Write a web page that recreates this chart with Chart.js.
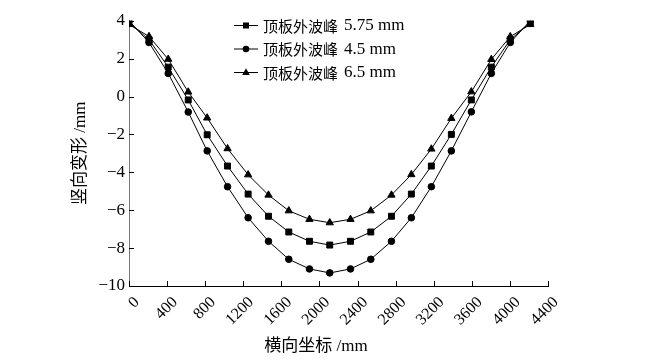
<!DOCTYPE html>
<html><head><meta charset="utf-8">
<script src="https://cdn.jsdelivr.net/npm/chart.js@4.4.1/dist/chart.umd.min.js"></script>
<style>html,body{margin:0;padding:0;background:#fff}#wrap{width:670px;height:362px;position:relative}</style>
</head><body><div id="wrap"><canvas id="c"></canvas></div>
<script>
const xPositions = [0, 210, 412, 622, 821, 1035, 1251, 1465, 1678, 1895, 2108, 2326, 2539, 2756, 2965, 3175, 3385, 3595, 3805, 4004, 4214];
const peak575 = [3.9, 3.0, 1.55, -0.18, -2.02, -3.67, -5.15, -6.32, -7.15, -7.64, -7.84, -7.64, -7.15, -6.32, -5.15, -3.67, -2.0, -0.18, 1.55, 3.0, 3.9];
const peak45  = [4.0, 2.85, 1.22, -0.82, -2.87, -4.76, -6.4, -7.64, -8.59, -9.1, -9.31, -9.1, -8.59, -7.64, -6.4, -4.76, -2.87, -0.81, 1.22, 2.85, 4.0];
const peak65  = [3.8, 3.17, 1.97, 0.24, -1.13, -2.75, -4.13, -5.2, -6.03, -6.48, -6.66, -6.48, -6.03, -5.2, -4.12, -2.77, -1.15, 0.25, 1.96, 3.16, 3.8];
const seriesNames = ['顶板外波峰', '顶板外波峰', '顶板外波峰'];
const seriesValues = ['5.75 mm', '4.5 mm', '6.5 mm'];
const seriesMarkers = ['rect', 'circle', 'triangle'];
const xAxisTitle = '横向坐标 /mm';
const yAxisTitle = '竖向变形 /mm';

const FONT = '"Liberation Serif", "Noto Sans CJK SC", serif';
const CJK = '"Noto Sans CJK SC", "Liberation Serif", serif';
const toPts = ys => ys.map((y, i) => ({x: xPositions[i], y}));
const mk = (label, ys, style, r) => ({
  label, data: toPts(ys), borderColor: '#000', backgroundColor: '#000', borderWidth: 1,
  pointStyle: style, pointRadius: r, pointBackgroundColor: '#000', pointBorderColor: '#000',
  pointBorderWidth: 1, tension: 0, fill: false
});

function drawMarker(ctx, style, x, y) {
  ctx.beginPath();
  if (style === 'rect') { ctx.rect(x - 3, y - 3, 6, 6); }
  else if (style === 'circle') { ctx.arc(x, y, 3.3, 0, Math.PI * 2); }
  else { ctx.moveTo(x, y - 4.2); ctx.lineTo(x + 3.8, y + 2.4); ctx.lineTo(x - 3.8, y + 2.4); ctx.closePath(); }
  ctx.fill();
}

const extras = {
  id: 'extras',
  afterDraw(chart) {
    const ctx = chart.ctx, xs = chart.scales.x, ys = chart.scales.y, a = chart.chartArea;
    ctx.save();
    ctx.strokeStyle = '#000'; ctx.lineWidth = 1;
    xs.ticks.forEach(t => {
      const px = Math.round(xs.getPixelForValue(t.value)) + 0.5;
      ctx.beginPath(); ctx.moveTo(px, a.bottom); ctx.lineTo(px, a.bottom - 5); ctx.stroke();
    });
    ys.ticks.forEach(t => {
      const py = Math.round(ys.getPixelForValue(t.value)) + 0.5;
      ctx.beginPath(); ctx.moveTo(a.left, py); ctx.lineTo(a.left + 5, py); ctx.stroke();
    });
    // legend
    const rows = [25, 48.5, 72];
    ctx.fillStyle = '#000';
    ctx.textBaseline = 'middle';
    ctx.textAlign = 'left';
    chart.data.datasets.forEach((ds, i) => {
      const y = rows[i];
      ctx.beginPath(); ctx.moveTo(234, y + 0.5); ctx.lineTo(258, y + 0.5); ctx.stroke();
      drawMarker(ctx, seriesMarkers[i], 246, y + 0.5);
      ctx.font = '15px ' + CJK;
      ctx.fillText(seriesNames[i], 263, y + 1);
      const w = ctx.measureText(seriesNames[i]).width;
      ctx.font = '17px ' + FONT;
      ctx.fillText(seriesValues[i], 263 + w + 6, y + 1);
    });
    // x axis title
    ctx.font = '17px ' + FONT;
    ctx.textAlign = 'center';
    ctx.fillText(xAxisTitle, 316, 347);
    ctx.restore();
  }
};

new Chart(document.getElementById('c'), {
  type: 'line',
  data: { datasets: [
    mk(seriesNames[0] + ' ' + seriesValues[0], peak575, seriesMarkers[0], 4.2),
    mk(seriesNames[1] + ' ' + seriesValues[1], peak45, seriesMarkers[1], 3.3),
    mk(seriesNames[2] + ' ' + seriesValues[2], peak65, seriesMarkers[2], 4.2)
  ]},
  options: {
    responsive: true, maintainAspectRatio: false, animation: false,
    layout: { padding: { left: 0, right: 122, top: 20.7, bottom: 0 } },
    plugins: { legend: { display: false }, tooltip: { enabled: false } },
    scales: {
      x: {
        type: 'linear', min: 0, max: 4400,
        afterFit: s => { s.height = 76; },
        grid: { display: false, drawTicks: false },
        border: { display: true, color: '#000', width: 1 },
        ticks: {
          stepSize: 400, maxRotation: 45, minRotation: 45, padding: 7, labelOffset: 8,
          color: '#000', font: { family: FONT, size: 16 },
          callback: v => String(v)
        },
        title: { display: false }
      },
      y: {
        min: -10, max: 4,
        afterFit: s => { s.width = 129; },
        grid: { display: false, drawTicks: false },
        border: { display: true, color: '#777', width: 1 },
        ticks: {
          stepSize: 2, padding: 4, color: '#000', font: { family: FONT, size: 17 },
          callback: v => String(v).replace('-', '\u2212')
        },
        title: { display: true, text: yAxisTitle, color: '#000', font: { family: FONT, size: 17 }, padding: { top: 70, bottom: 0 } }
      }
    }
  },
  plugins: [extras]
});
</script>
</body></html>
